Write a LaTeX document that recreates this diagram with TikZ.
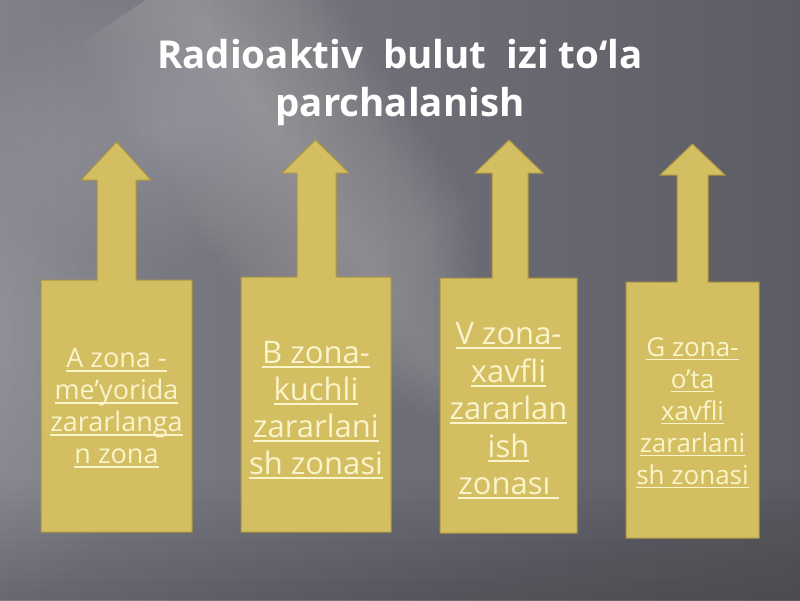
\documentclass[tikz,border=0pt]{standalone}
\usepackage{fontspec}
\setmainfont{Open Sans}
\definecolor{bgleft}{RGB}{128,128,136}
\definecolor{bgright}{RGB}{92,92,100}
\definecolor{boxfill}{RGB}{212,190,98}
\definecolor{boxedge}{RGB}{172,150,66}
\definecolor{txt}{RGB}{250,244,202}
\newcommand{\myul}[1]{\setbox0\hbox{#1}\rlap{\rule[-0.15em]{\wd0}{0.065em}}\box0}
\tikzset{
  callout/.style={fill=boxfill, draw=boxedge, line width=1pt, line join=miter},
  zonetext/.style={text=txt, align=center, inner sep=0pt},
  glow/.style={fill=white, opacity=0.012},
  streaklayer/.style={fill=white, opacity=0.015},
}
\begin{document}
\begin{tikzpicture}[x=1pt,y=-1pt]
\useasboundingbox (0,0) rectangle (800,600);
% background
\shade[left color=bgleft, right color=bgright] (0,0) rectangle (800,600);
% soft light on the left edge
\foreach \r in {8,16,...,128} {
  \fill[glow] (-10,330) ellipse ({\r*1.3} and {\r*2.1});
}
% soft light in the upper left
\foreach \r in {8,16,...,128} {
  \fill[glow] (160,130) ellipse ({\r*1.4} and {\r*1.0});
}
% light diagonal streak
\begin{scope}[shift={(175,-20)}, rotate=-56]
  \foreach \w in {6,12,...,120} {
    \fill[streaklayer] (0,-\w) rectangle ({570-1.8*\w},\w);
  }
\end{scope}
% darker bottom
\foreach \h in {10,20,...,120} {
  \fill[black, opacity=0.012] (0,600-\h) rectangle (800,600);
}
% callouts
\path[callout] (41,532) -- (41,280) -- (97,280) -- (97,180) -- (81,180) -- (116.5,142) -- (151,180) -- (136,180) -- (136,280) -- (192,280) -- (192,532) -- cycle;
\path[callout] (241,532) -- (241,277) -- (297,277) -- (297,173) -- (282,173) -- (315.5,140) -- (349,173) -- (336,173) -- (336,277) -- (391,277) -- (391,532) -- cycle;
\path[callout] (440,533) -- (440,278) -- (492,278) -- (492,173) -- (475,173) -- (509,140) -- (543,173) -- (528,173) -- (528,278) -- (577,278) -- (577,533) -- cycle;
\path[callout] (626,538) -- (626,282) -- (677,282) -- (677,175) -- (660,175) -- (692.5,144) -- (725,175) -- (708,175) -- (708,282) -- (759,282) -- (759,538) -- cycle;
% title
\node[text=white, align=center, font=\bfseries\fontsize{38.5}{48}\selectfont] (title) at (400,82)
  {Radioaktiv\ \ bulut\ \ izi to‘la\\parchalanish};
% zone texts
\node[zonetext, font=\fontsize{27}{32}\selectfont] (za) at (116.5,408)
  {\myul{A zona -}\\\myul{me’yorida}\\\myul{zararlanga}\\\myul{n zona}};
\node[zonetext, font=\fontsize{31}{37}\selectfont] (zb) at (316,410)
  {\myul{B zona-}\\\myul{kuchli}\\\myul{zararlani}\\\myul{sh zonasi}};
\node[zonetext, font=\fontsize{31}{37.5}\selectfont] (zv) at (508.5,411)
  {\myul{V zona-}\\\myul{xavfli}\\\myul{zararlan}\\\myul{ish}\\\myul{zonası\ }};
\node[zonetext, font=\fontsize{26}{32}\selectfont] (zg) at (692.5,413)
  {\myul{G zona-}\\\myul{o’ta}\\\myul{xavfli}\\\myul{zararlani}\\\myul{sh zonasi}};
\end{tikzpicture}
\end{document}
